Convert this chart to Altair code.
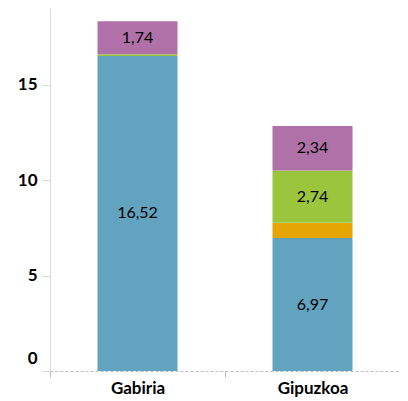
import altair as alt
import pandas as pd

categories = ["Gabiria", "Gipuzkoa"]
series = ["s1", "s2", "s3", "s4"]
colors = ["#62A3C0", "#E5A502", "#9BC53D", "#B070A8"]
blue = [16.52, 6.97]
orange = [0.0, 0.80]
green = [0.08, 2.74]
purple = [1.74, 2.34]

rows = []
for ci, c in enumerate(categories):
    for si, (s, vals) in enumerate(zip(series, [blue, orange, green, purple])):
        v = vals[ci]
        rows.append({"cat": c, "series": s, "idx": si, "value": v,
                     "label": f"{v:.2f}".replace(".", ",")})
df = pd.DataFrame(rows)

FONT = "Lato"

x_enc = alt.X("cat:N", sort=categories, title=None,
              scale=alt.Scale(paddingInner=0, paddingOuter=0),
              axis=alt.Axis(labelAngle=0, labelFont=FONT, labelFontSize=17,
                            labelFontWeight="bold", labelColor="#000000",
                            domainColor="#BFBFBF", domainDash=[3, 2],
                            tickColor="#BFBFBF", tickSize=6, tickBand="extent",
                            labelPadding=3))

y_scale = alt.Scale(domain=[0, 19.03], nice=False, zero=True)

bars = alt.Chart(df).mark_bar(size=80).encode(
    x=x_enc,
    y=alt.Y("value:Q", stack="zero", scale=y_scale, title=None,
            axis=alt.Axis(values=[0, 5, 10, 15], labelFont=FONT, labelFontSize=17,
                          labelFontWeight="bold", labelColor="#000000",
                          domainColor="#D9D9D9", tickColor="#D9D9D9",
                          tickSize=8, labelPadding=5, grid=False,
                          labelOffset={"condition": {"test": "datum.value === 0", "value": -13}, "value": 0})),
    color=alt.Color("series:N", scale=alt.Scale(domain=series, range=colors), legend=None),
    order=alt.Order("idx:Q", sort="ascending"),
)

text = alt.Chart(df).transform_stack(
    stack="value", groupby=["cat"], as_=["y0", "y1"], sort=[alt.SortField("idx", order="ascending")]
).transform_filter("datum.value >= 1").transform_calculate(
    mid="(datum.y0 + datum.y1) / 2"
).mark_text(font=FONT, fontSize=16, color="#000000").encode(
    x=alt.X("cat:N", sort=categories),
    y=alt.Y("mid:Q", scale=y_scale),
    text="label:N",
)

chart = alt.layer(bars, text).properties(
    width=350, height=363,
    padding={"left": 42, "top": 0, "right": 0, "bottom": 30},
    autosize="none",
).configure_view(stroke=None)

chart.save("out.html", embed_options={"renderer": "svg", "actions": False})
